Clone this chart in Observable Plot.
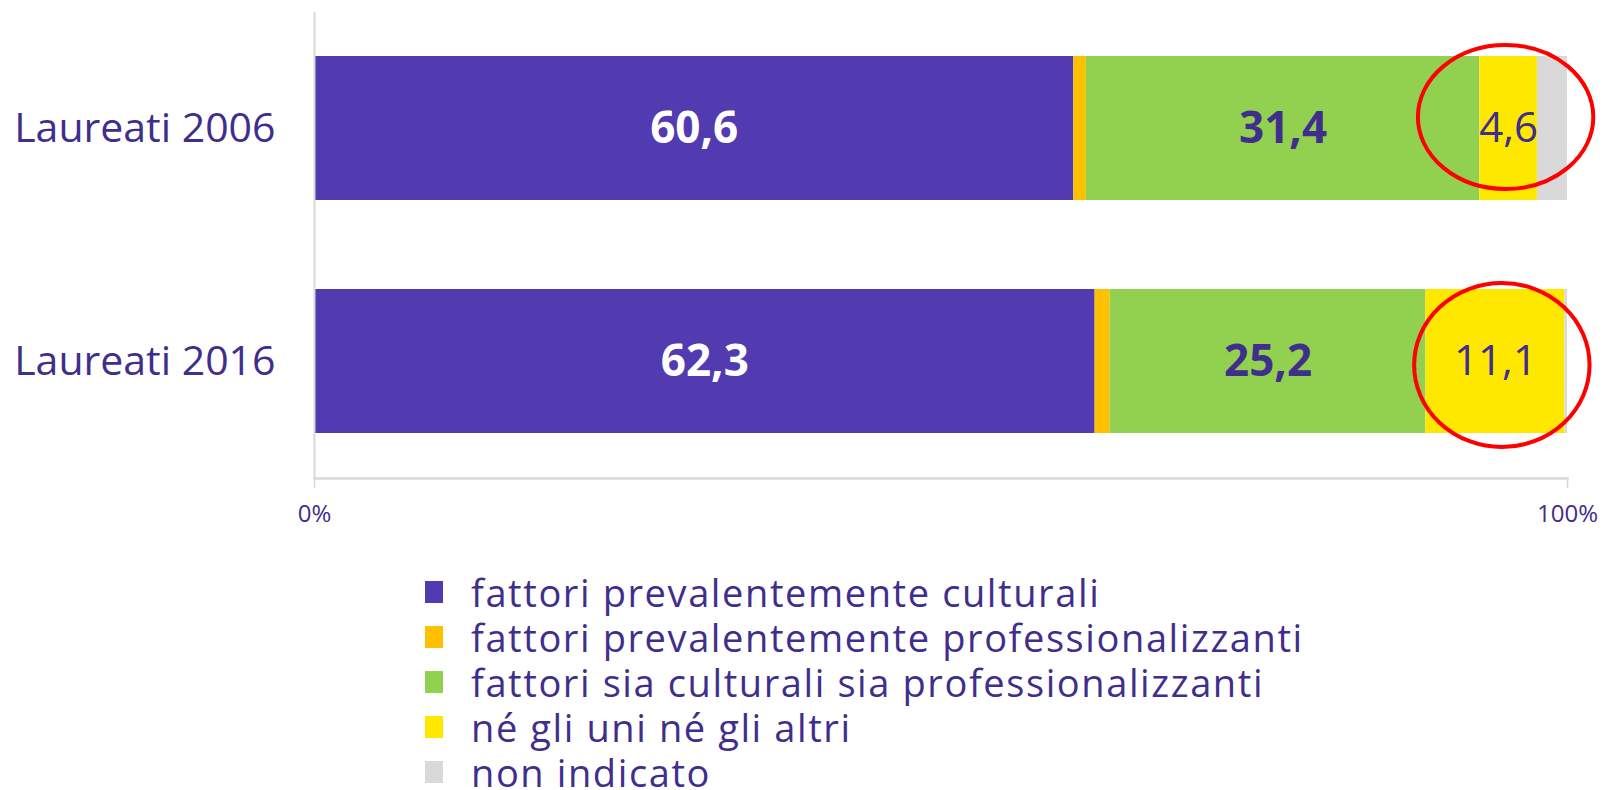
<!DOCTYPE html>
<html><head><meta charset="utf-8">
<script src="https://cdn.jsdelivr.net/npm/d3@7"></script>
<script src="https://cdn.jsdelivr.net/npm/@observablehq/plot@0.6"></script>
<style>
html,body{margin:0;padding:0;background:#fff;}
body{font-family:"Open Sans",sans-serif;width:1606px;height:790px;overflow:hidden;}
#chart svg{display:block;}
#legend{margin-left:425px;margin-top:29px;color:#3F2E8C;font-size:38px;letter-spacing:1.6px;}
.row{display:flex;align-items:center;height:45px;line-height:42px;white-space:nowrap;}
.sw{width:18px;height:22px;margin-right:28px;flex:none;}
</style></head><body><div id="chart"></div><div id="legend"></div>
<script>
const years = ["Laureati 2006", "Laureati 2016"];
const categories = [
  "fattori prevalentemente culturali",
  "fattori prevalentemente professionalizzanti",
  "fattori sia culturali sia professionalizzanti",
  "né gli uni né gli altri",
  "non indicato"
];
const colors = ["#523AB0", "#FFC000", "#92D050", "#FFE800", "#D9D9D9"];
const values2006 = [60.6, 1.0, 31.4, 4.6, 2.4];
const values2016 = [62.3, 1.2, 25.2, 11.1, 0.2];
const xTicks = [0, 100];
// which categories carry a label, and how
const boldLabelCats = [categories[0], categories[2]];
const plainLabelCats = [categories[3]];
const highlights = [
  {year: "Laureati 2006", cx: 95.1, rx: 7.0, dy: -11, ry: 72},
  {year: "Laureati 2016", cx: 94.8, rx: 7.0, dy: 4, ry: 82}
];

const purple = "#3F2E8C";
const data = [];
years.forEach((y, i) => {
  const vals = i === 0 ? values2006 : values2016;
  categories.forEach((c, j) => data.push({year: y, category: c, value: vals[j]}));
});
const fmt = d => d.value.toFixed(1).replace(".", ",");
const stackOpts = {x: "value", y: "year", z: "category", order: categories};

const plot = Plot.plot({
  width: 1606,
  height: 540,
  marginLeft: 314,
  marginRight: 39,
  marginTop: 12,
  marginBottom: 62,
  style: {fontFamily: "'Open Sans', sans-serif", background: "#fff"},
  x: {domain: [0, 100], axis: null, label: null},
  y: {domain: years, paddingInner: 0.38, paddingOuter: 0.19, axis: null, label: null},
  color: {domain: categories, range: colors},
  marks: [
    Plot.barX(data, Plot.stackX({...stackOpts, fill: "category"})),
    Plot.ruleX([0], {stroke: "#D9D9D9", strokeWidth: 2}),
    Plot.frame({anchor: "bottom", stroke: "#D9D9D9", strokeWidth: 2.5}),
    Plot.axisX(xTicks, {label: null, tickSize: 10, tickPadding: 16, tickFormat: d => d + "%", fontSize: 24, stroke: "#D9D9D9", fill: purple, strokeWidth: 1.5}),
    Plot.axisY({label: null, tickSize: 0, tickPadding: 39, fontSize: 41, fill: purple, letterSpacing: 0.6}),
    Plot.text(data, Plot.stackX({...stackOpts,
      text: d => boldLabelCats.includes(d.category) ? fmt(d) : "",
      fontSize: 44, fontWeight: "bold",
      fill: d => d.category === categories[0] ? "#FFFFFF" : purple})),
    Plot.text(data, Plot.stackX({...stackOpts,
      text: d => plainLabelCats.includes(d.category) ? fmt(d) : "",
      fontSize: 42, fill: purple}))
  ]
});
document.getElementById("chart").appendChild(plot);

// red highlight ellipses positioned through the plot's scales
const xs = plot.scale("x"), ys = plot.scale("y");
const svg = d3.select(plot);
highlights.forEach(h => {
  const cx = xs.apply(h.cx);
  const cy = ys.apply(h.year) + ys.bandwidth / 2 + h.dy;
  const rx = xs.apply(h.cx + h.rx) - cx;
  svg.append("ellipse").attr("cx", cx).attr("cy", cy).attr("rx", rx).attr("ry", h.ry)
    .attr("fill", "none").attr("stroke", "#FF0000").attr("stroke-width", 4);
});

// legend
const legend = d3.select("#legend");
categories.forEach((c, i) => {
  const row = legend.append("div").attr("class", "row");
  row.append("div").attr("class", "sw").style("background", colors[i]);
  row.append("span").text(c);
});
</script></body></html>
